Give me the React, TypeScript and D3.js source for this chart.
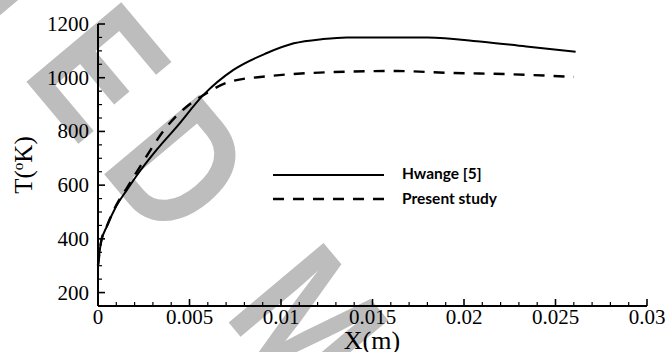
import React from "react";
import * as d3 from "d3";

// Temperature along the axial coordinate X (m)
const hwangeX = [0, 0.00016, 0.0005, 0.001, 0.0016, 0.0021, 0.0032, 0.0043, 0.00575, 0.0074, 0.0092, 0.0107, 0.0123, 0.0136, 0.018, 0.021, 0.0234, 0.0261];
const hwangeT = [300, 386, 448, 522, 584, 634, 731, 817, 935, 1029, 1091, 1128, 1144, 1150, 1150, 1134, 1116, 1097];

const presentX = [0, 0.00016, 0.0005, 0.001, 0.0016, 0.0023, 0.00375, 0.00484, 0.00575, 0.0072, 0.0092, 0.0105, 0.0129, 0.0163, 0.0192, 0.0225, 0.026];
const presentT = [300, 386, 450, 526, 592, 669, 817, 892, 935, 985, 1005, 1013, 1021, 1025, 1018, 1013, 1003];

const xMajorTicks = [0, 0.005, 0.01, 0.015, 0.02, 0.025, 0.03];
const xTickLabels = ["0", "0.005", "0.01", "0.015", "0.02", "0.025", "0.03"];
const yMajorTicks = [200, 400, 600, 800, 1000, 1200];
const seriesNames = ["Hwange [5]", "Present study"];

const W = 668;
const H = 352;
const left = 98;
const right = 647;
const top = 24;
const bottom = 306;

export default function App() {
  const x = d3.scaleLinear().domain([0, 0.03]).range([left, right]);
  const y = d3.scaleLinear().domain([150, 1200]).range([bottom, top]);

  const line = d3
    .line<[number, number]>()
    .x((d) => x(d[0]))
    .y((d) => y(d[1]))
    .curve(d3.curveMonotoneX);

  const hwange = hwangeX.map((v, i) => [v, hwangeT[i]] as [number, number]);
  const present = presentX.map((v, i) => [v, presentT[i]] as [number, number]);

  const xMinor = d3.range(0, 31).map((i) => i * 0.001).filter((v) => !xMajorTicks.some((m) => Math.abs(m - v) < 1e-9));
  const yMinor = d3.range(150, 1201, 50).filter((v) => v % 200 !== 0 && v !== 150);

  const serif = "'Liberation Serif', 'Times New Roman', serif";
  const wmColor = "#bdbdbd";
  const rot = 50;
  // watermark anchor: start of the "D"
  const dX = 98;
  const dY = 167;

  return (
    <svg width={W} height={H} style={{ position: "absolute", left: 0, top: 0, background: "#fff" }}>
      <rect width={W} height={H} fill="#fff" />
      {/* watermark */}
      <g
        transform={`translate(${dX},${dY}) rotate(${rot}) scale(0.8,1)`}
        fill={wmColor}
        fontFamily="'Liberation Sans', Arial, sans-serif"
        fontWeight={700}
        fontSize={180}
        style={{ letterSpacing: "31px" }}
      >
        <text x={0} y={0} textAnchor="end">ACCEPTE</text>
        <text x={0} y={0}>D MANUSCRIPT</text>
      </g>

      {/* axes */}
      <g stroke="#000" fill="none">
        <line x1={left} y1={bottom} x2={right} y2={bottom} strokeWidth={2} />
        <line x1={left} y1={bottom} x2={left} y2={top} strokeWidth={2} />
        {xMajorTicks.map((v) => (
          <line key={"xm" + v} x1={x(v)} x2={x(v)} y1={bottom} y2={bottom - 7} strokeWidth={1.6} />
        ))}
        {xMinor.map((v) => (
          <line key={"xn" + v} x1={x(v)} x2={x(v)} y1={bottom} y2={bottom - 4} strokeWidth={1.2} />
        ))}
        {yMajorTicks.map((v) => (
          <line key={"ym" + v} x1={left} x2={left + 7} y1={y(v)} y2={y(v)} strokeWidth={1.6} />
        ))}
        {yMinor.map((v) => (
          <line key={"yn" + v} x1={left} x2={left + 4} y1={y(v)} y2={y(v)} strokeWidth={1.2} />
        ))}
      </g>

      {/* tick labels */}
      <g fontFamily={serif} fontSize={21} fill="#000">
        {xMajorTicks.map((v, i) => (
          <text key={"xl" + v} x={x(v)} y={324} textAnchor="middle">
            {xTickLabels[i]}
          </text>
        ))}
        {yMajorTicks.map((v) => (
          <text key={"yl" + v} x={89} y={y(v) + 7} textAnchor="end">
            {v}
          </text>
        ))}
      </g>

      {/* axis titles */}
      <text x={372} y={349} textAnchor="middle" fontFamily={serif} fontSize={26} fill="#000">
        X(m)
      </text>
      <text transform="translate(32,165) rotate(-90)" textAnchor="middle" fontFamily={serif} fontSize={25} fill="#000">
        T(<tspan fontSize={15} dy={-9}>o</tspan>
        <tspan dy={9}>K)</tspan>
      </text>

      {/* curves */}
      <path d={line(hwange) ?? ""} fill="none" stroke="#000" strokeWidth={2} />
      <path d={line(present) ?? ""} fill="none" stroke="#000" strokeWidth={2.4} strokeDasharray="11 9" />

      {/* legend */}
      <line x1={273} x2={384} y1={175} y2={175} stroke="#000" strokeWidth={2} />
      <line x1={273} x2={384} y1={199} y2={199} stroke="#000" strokeWidth={2.4} strokeDasharray="11 9" />
      <g fontFamily="Lato, 'Open Sans', sans-serif" fontWeight={700} fontSize={15.5} fill="#000">
        <text x={402} y={179}>{seriesNames[0]}</text>
        <text x={402} y={204}>{seriesNames[1]}</text>
      </g>
    </svg>
  );
}
